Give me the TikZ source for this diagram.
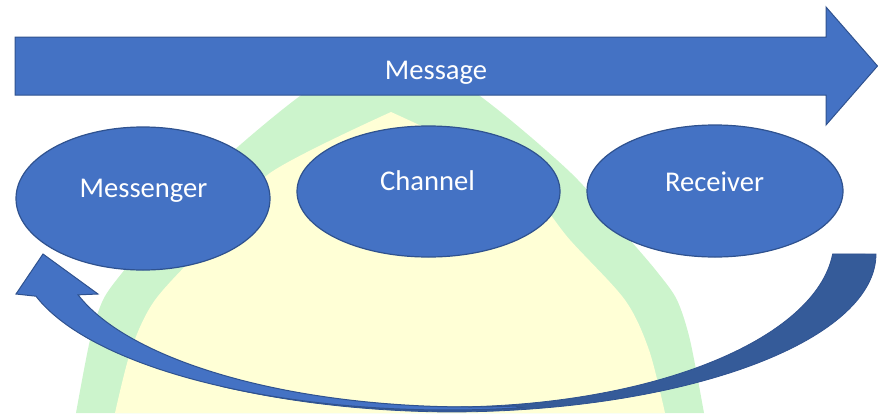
\documentclass[tikz,border=0pt]{standalone}
\usepackage{fontspec}
\setmainfont{Carlito}
\usetikzlibrary{shapes.geometric}
\definecolor{bluefill}{HTML}{4472C4}
\definecolor{blueline}{HTML}{2F528F}
\definecolor{blueback}{HTML}{355B99}
\definecolor{wmgreen}{HTML}{CCF4CC}
\definecolor{wmyellow}{HTML}{FFFFD6}
\tikzset{
  shapefill/.style={fill=bluefill, draw=blueline, line width=1pt, line join=miter},
  bubble/.style={ellipse, fill=bluefill, draw=blueline, line width=1.2pt, inner sep=0pt},
  txt/.style={text=white, font=\fontsize{28.6}{34}\selectfont, anchor=base, inner sep=0pt},
}
\begin{document}
\begin{tikzpicture}[x=1pt,y=-1pt]
\useasboundingbox (0,0) rectangle (878,413);
% faint watermark in the background
\fill[wmgreen] plot[smooth, tension=0.5] coordinates {(76,413) (90,340) (103,300) (122,273) (150,240) (209,173) (300,96) (390,40) (480,96) (571,173) (630,240) (658,273) (677,300) (690,340) (704,413)} -- cycle;
\fill[wmyellow] plot[smooth, tension=0.5] coordinates {(115,413) (131,350) (155,300) (210,240) (270,173) (391,112)} -- plot[smooth, tension=0.5] coordinates {(391,112) (512,173) (570,240) (625,300) (649,350) (665,413)} -- cycle;
% ellipses
\node[bubble, minimum width=254pt, minimum height=143pt] (messenger) at (143,198.5) {};
\node[bubble, minimum width=263pt, minimum height=131pt] (channel) at (428.5,191.5) {};
\node[bubble, minimum width=256pt, minimum height=132pt] (receiver) at (715,191) {};
\node[txt] (messengerlabel) at (143.5,197) {Messenger};
\node[txt] (channellabel) at (427.5,190) {Channel};
\node[txt] (receiverlabel) at (714.5,191) {Receiver};
% message arrow
\filldraw[shapefill] (15,37) -- (826,37) -- (826,7) -- (877.5,66) -- (826,125) -- (826,95) -- (15,95) -- cycle;
\node[txt] (msg) at (436,79) {Message};
% curved return arrow: back part
\filldraw[fill=blueback, draw=blueline, line width=0.8pt]
  plot[domain=0:122, samples=90, variable=\t] ({448+428*cos(\t)},{254+(156+2*min(1,max(0,(122-\t)/32)))*sin(\t)})
  -- plot[domain=124:4.8, samples=90, variable=\t] ({448+386*cos(\t)},{240+167*sin(\t)}) -- cycle;
% curved return arrow: front part with head
\filldraw[shapefill] (43,254) -- (16,294)
  -- plot[domain=164.3:80, samples=90, variable=\t] ({448+428*cos(\t)},{254+156*sin(\t)})
  -- plot[domain=83.7:163.4, samples=90, variable=\t] ({470+409*cos(\t)},{250+157*sin(\t)})
  -- (98,294) -- cycle;
\end{tikzpicture}
\end{document}
